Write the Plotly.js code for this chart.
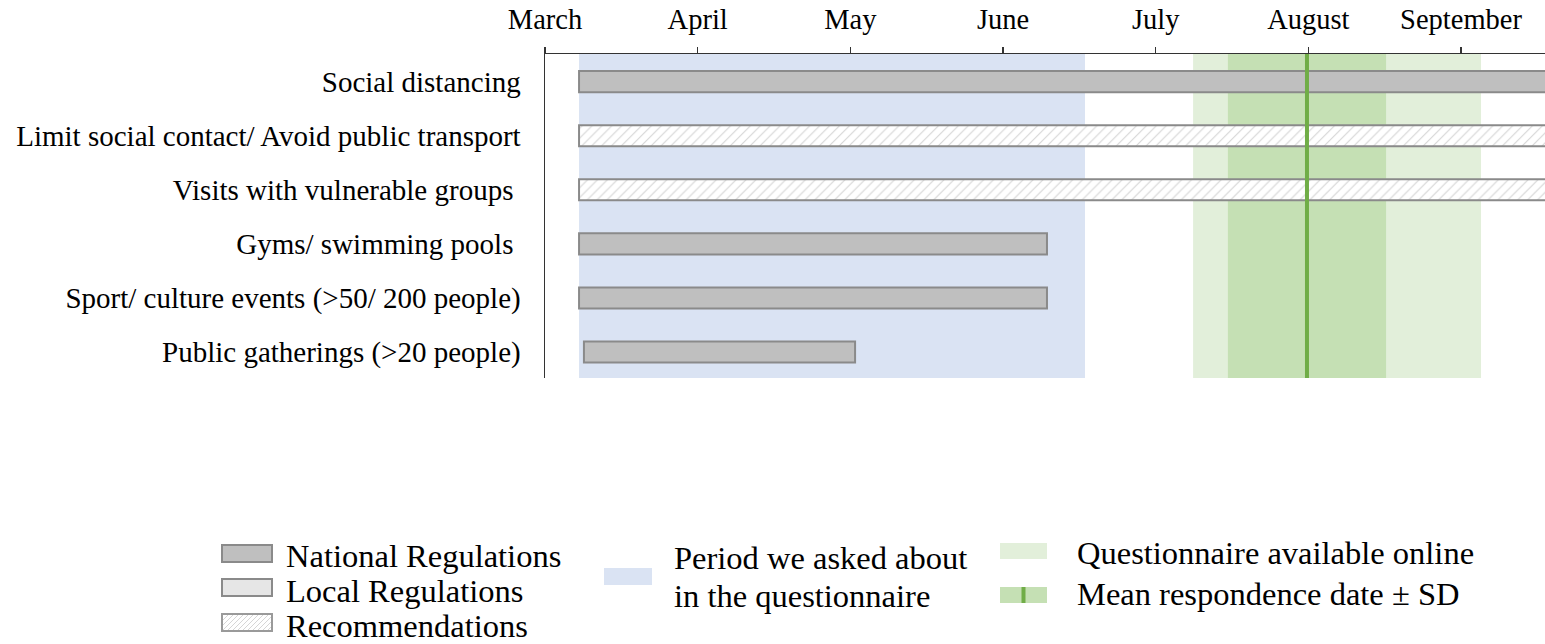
<!DOCTYPE html>
<html>
<head>
<meta charset="utf-8">
<script src="https://cdn.plot.ly/plotly-3.0.1.min.js"></script>
<style>html,body{margin:0;padding:0;background:#fff;}#chart{width:1545px;height:644px;}</style>
</head>
<body>
<div id="chart"></div>
<script>
// x values are months since 1 March (0 = March, 1 = April, ...)
const monthTicks = [0, 1, 2, 3, 4, 5, 6];
const monthLabels = ["March", "April", "May", "June", "July", "August", "September"];

const measures = [
  "Social distancing",
  "Limit social contact/ Avoid public transport",
  "Visits with vulnerable groups\u00a0",
  "Gyms/ swimming pools\u00a0",
  "Sport/ culture events (>50/ 200 people)",
  "Public gatherings (>20 people)"
];
const measureStart = [0.223, 0.223, 0.223, 0.223, 0.223, 0.255];
const measureEnd   = [6.8, 6.8, 6.8, 3.288, 3.288, 2.031];
const measureType  = ["National", "Recommendation", "Recommendation", "National", "National", "National"];

const askedPeriod  = [0.223, 3.537];
const onlinePeriod = [4.245, 6.131];
const meanResponse = 4.991;
const sdResponse   = 0.518;

const FONT = "Liberation Serif, Times New Roman, serif";

function barTrace(type) {
  const idx = measures.map((m, i) => i).filter(i => measureType[i] === type);
  const t = {
    type: "bar", orientation: "h",
    y: idx.map(i => measures[i]),
    base: idx.map(i => measureStart[i]),
    x: idx.map(i => measureEnd[i] - measureStart[i]),
    width: 0.39,
    hoverinfo: "skip",
    showlegend: false
  };
  if (type === "National") {
    t.marker = {color: "#bfbfbf", line: {color: "#8a8a8a", width: 2}};
  } else {
    t.marker = {color: "#ffffff", line: {color: "#8a8a8a", width: 2},
      pattern: {shape: "/", fgcolor: "#d4d4d4", bgcolor: "#ffffff", size: 7, solidity: 0.15}};
  }
  return t;
}

const traces = [barTrace("National"), barTrace("Recommendation")];

// pixel -> paper helpers for legend items
const PL = 545, PR = 1545, PT = 54, PB = 378;
const px = p => (p - PL) / (PR - PL);
const py = p => (PB - p) / (PB - PT);

function rect(x0, y0, x1, y1, fill, line, lw) {
  return {type: "rect", xref: "paper", yref: "paper", x0: px(x0), x1: px(x1), y0: py(y1), y1: py(y0),
    fillcolor: fill, line: {color: line || fill, width: lw || 0}, layer: "above"};
}

function hatchPath(x0, y0, x1, y1, step) {
  let d = "";
  const h = y1 - y0;
  for (let k = -h; k < (x1 - x0); k += step) {
    let ax = x0 + k, ay = y1, bx = x0 + k + h, by = y0;
    if (ax < x0) { ay = y1 - (x0 - ax); ax = x0; }
    if (bx > x1) { by = y0 + (bx - x1); bx = x1; }
    d += `M${px(ax)},${py(ay)}L${px(bx)},${py(by)}`;
  }
  return {type: "path", xref: "paper", yref: "paper", path: d, line: {color: "#d6d6d6", width: 1}, layer: "above"};
}

const shapes = [
  {type: "rect", xref: "x", yref: "paper", x0: askedPeriod[0], x1: askedPeriod[1], y0: 0, y1: 1,
    fillcolor: "#dae3f3", line: {width: 0}, layer: "below"},
  {type: "rect", xref: "x", yref: "paper", x0: onlinePeriod[0], x1: onlinePeriod[1], y0: 0, y1: 1,
    fillcolor: "#e2efda", line: {width: 0}, layer: "below"},
  {type: "rect", xref: "x", yref: "paper", x0: meanResponse - sdResponse, x1: meanResponse + sdResponse, y0: 0, y1: 1,
    fillcolor: "#c5e0b4", line: {width: 0}, layer: "below"},
  {type: "line", xref: "x", yref: "paper", x0: meanResponse, x1: meanResponse, y0: 0, y1: 1,
    line: {color: "#70ad47", width: 4}, layer: "above"},
  // legend swatches
  rect(222, 545, 272, 562, "#bfbfbf", "#8a8a8a", 2),
  rect(222, 579, 272, 596, "#e6e6e6", "#8a8a8a", 2),
  rect(222, 614, 272, 631, "#ffffff", "#9a9a9a", 2),
  hatchPath(223, 615, 271, 630, 5),
  rect(604, 568, 652, 585, "#dae3f3"),
  rect(1000, 543, 1047, 559, "#e2efda"),
  rect(1000, 587, 1047, 603, "#c5e0b4"),
  {type: "line", xref: "paper", yref: "paper", x0: px(1023.5), x1: px(1023.5), y0: py(603), y1: py(587),
    line: {color: "#70ad47", width: 4}, layer: "above"}
];

function label(text, x, y) {
  return {xref: "paper", yref: "paper", x: px(x), y: py(y), xanchor: "left", yanchor: "middle",
    text: text, showarrow: false, font: {family: FONT, size: 32.5, color: "#000"}, borderpad: 0};
}

const annotations = [
  label("National Regulations", 285, 556),
  label("Local Regulations", 285, 590.5),
  label("Recommendations", 285, 625.5),
  label("Period we asked about", 673, 558),
  label("in the questionnaire", 673, 596),
  label("Questionnaire available online", 1076, 553),
  label("Mean respondence date ± SD", 1076, 593.5)
];

const layout = {
  width: 1545, height: 644,
  margin: {l: PL, r: 1545 - PR, t: PT, b: 644 - PB, pad: 0},
  paper_bgcolor: "#fff", plot_bgcolor: "rgba(0,0,0,0)",
  barmode: "overlay",
  showlegend: false,
  font: {family: FONT, size: 28, color: "#000"},
  xaxis: {
    side: "top", range: [0, 6.55], tickvals: monthTicks, ticktext: monthLabels,
    showline: true, linecolor: "#333", linewidth: 1.5, mirror: false,
    ticks: "outside", ticklen: 6, tickwidth: 1.5, tickcolor: "#333",
    showgrid: false, zeroline: false, fixedrange: true,
    tickfont: {family: FONT, size: 28.5, color: "#000"}, ticklabelstandoff: 6
  },
  yaxis: {
    type: "category", categoryorder: "array", categoryarray: measures,
    range: [5.48, -0.51],
    showline: true, linecolor: "#333", linewidth: 1.5,
    ticks: "", showgrid: false, zeroline: false, fixedrange: true,
    tickfont: {family: FONT, size: 29, color: "#000"}, ticklabelstandoff: 17
  },
  shapes: shapes,
  annotations: annotations
};

Plotly.newPlot("chart", traces, layout, {displayModeBar: false, staticPlot: true});
</script>
</body>
</html>
